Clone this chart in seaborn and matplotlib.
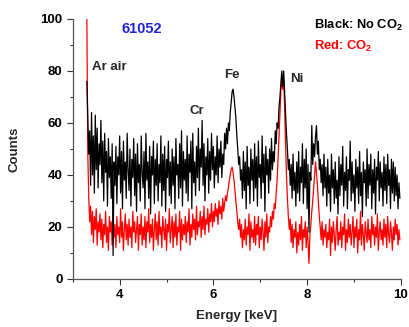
import numpy as np
import pandas as pd
import matplotlib
matplotlib.use("Agg")
import matplotlib.pyplot as plt
from matplotlib.ticker import MultipleLocator
import seaborn as sns

# channel grid of the spectrum (keV)
kev_start = 3.30
kev_step = 0.02

# counts, 15 channels per row (0.3 keV)
counts_no_co2 = [
    76, 62, 48, 57, 36, 64, 40, 55, 33, 63, 42, 58, 35, 52, 44,
    61, 37, 53, 30, 56, 41, 49, 28, 54, 39, 47, 31, 52, 9, 45,
    36, 51, 29, 47, 40, 55, 33, 49, 27, 53, 38, 45, 31, 56, 42,
    34, 50, 28, 46, 39, 54, 32, 48, 26, 52, 37, 44, 30, 55, 41,
    35, 49, 27, 56, 38, 45, 31, 51, 25, 47, 40, 53, 29, 46, 36,
    52, 30, 44, 37, 55, 28, 48, 34, 51, 26, 46, 39, 53, 32, 45,
    29, 50, 36, 47, 27, 54, 40, 44, 31, 52, 35, 57, 28, 49, 38,
    46, 33, 55, 30, 48, 41, 53, 27, 56, 37, 45, 32, 51, 39, 58,
    34, 50, 43, 61, 36, 52, 30, 47, 40, 54, 33, 49, 38, 56, 42,
    51, 35, 47, 40, 55, 37, 50, 43, 53, 39, 48, 44, 56, 50, 58,
    52, 60, 57, 64, 68, 72, 73, 70, 66, 62, 55, 50, 44, 47, 38,
    42, 31, 49, 34, 45, 27, 51, 36, 43, 29, 50, 38, 46, 30, 52,
    35, 47, 28, 53, 39, 44, 31, 55, 37, 48, 26, 51, 40, 46, 33,
    50, 38, 54, 42, 49, 45, 57, 52, 60, 58, 66, 70, 75, 80, 74,
    80, 72, 64, 56, 50, 42, 46, 36, 44, 31, 48, 34, 41, 28, 45,
    33, 49, 30, 43, 37, 52, 29, 46, 35, 50, 27, 44, 18, 41, 38,
    59, 44, 52, 47, 55, 59, 48, 53, 42, 46, 37, 44, 32, 48, 35,
    43, 28, 46, 33, 40, 26, 48, 35, 42, 29, 45, 31, 38, 25, 47,
    32, 44, 36, 51, 28, 41, 34, 47, 27, 42, 38, 53, 30, 45, 33,
    40, 26, 46, 35, 43, 29, 49, 32, 41, 24, 45, 37, 42, 28, 50,
    31, 44, 36, 48, 27, 42, 33, 46, 25, 43, 38, 49, 30, 45, 35,
    41, 28, 47, 34, 44, 29, 48, 36, 42, 27, 46, 33, 45, 30, 43,
    32, 40, 27, 37, 31,
]

counts_co2 = [
    100, 48, 32, 22, 28, 17, 26, 14, 24, 19, 27, 13, 22, 18, 25,
    15, 23, 12, 21, 17, 26, 14, 20, 11, 24, 18, 22, 13, 25, 16,
    21, 12, 24, 17, 20, 14, 27, 16, 22, 11, 19, 25, 15, 21, 13,
    23, 16, 20, 12, 26, 18, 22, 14, 19, 24, 11, 21, 17, 25, 13,
    20, 15, 24, 12, 22, 18, 27, 14, 21, 16, 23, 11, 19, 25, 15,
    22, 13, 26, 17, 20, 12, 24, 19, 15, 23, 11, 21, 18, 27, 14,
    19, 24, 12, 22, 16, 25, 13, 20, 18, 26, 11, 23, 15, 21, 17,
    24, 14, 22, 18, 27, 13, 21, 16, 25, 19, 23, 15, 28, 17, 22,
    20, 26, 16, 24, 19, 28, 17, 23, 21, 27, 18, 25, 22, 29, 20,
    26, 22, 29, 24, 27, 21, 30, 25, 28, 23, 31, 26, 29, 32, 30,
    33, 35, 38, 40, 42, 43, 41, 38, 34, 30, 26, 22, 19, 23, 16,
    21, 12, 19, 15, 23, 13, 20, 17, 25, 11, 22, 16, 19, 14, 24,
    13, 21, 17, 24, 12, 20, 15, 23, 18, 11, 22, 16, 25, 14, 20,
    18, 24, 20, 26, 23, 29, 27, 33, 38, 46, 55, 64, 72, 78, 73,
    77, 66, 52, 40, 31, 24, 19, 23, 14, 21, 12, 19, 16, 22, 10,
    18, 13, 21, 15, 24, 11, 19, 16, 22, 12, 20, 14, 6, 17, 21,
    26, 30, 35, 40, 45, 41, 36, 30, 24, 20, 15, 22, 13, 19, 16,
    21, 12, 18, 15, 23, 9, 20, 14, 22, 17, 11, 19, 24, 13, 18,
    15, 22, 12, 20, 17, 25, 11, 19, 14, 23, 16, 21, 13, 18, 24,
    12, 20, 16, 23, 10, 19, 15, 26, 13, 21, 17, 11, 22, 18, 14,
    23, 15, 19, 12, 24, 17, 21, 13, 20, 16, 25, 11, 18, 22, 15,
    19, 13, 23, 16, 21, 12, 24, 17, 14, 22, 18, 11, 20, 15, 23,
    17, 21, 13, 19, 15,
]

energy = kev_start + kev_step * np.arange(len(counts_no_co2))

df = pd.DataFrame({"energy": energy,
                   "no_co2": counts_no_co2,
                   "co2": counts_co2})

sns.set_style("ticks")
plt.rcParams['font.family'] = ['Liberation Sans', 'DejaVu Sans']
plt.rcParams['font.weight'] = 'bold'
plt.rcParams['mathtext.fontset'] = 'custom'
plt.rcParams['mathtext.rm'] = 'Liberation Sans:bold'
plt.rcParams['mathtext.it'] = 'Liberation Sans:bold'
plt.rcParams['mathtext.bf'] = 'Liberation Sans:bold'

fig = plt.figure(figsize=(4.09, 3.27), dpi=100)
ax = fig.add_axes([0.178, 0.147, 0.802, 0.795])

sns.lineplot(data=df, x="energy", y="co2", color="#ff0000", lw=0.9, ax=ax)
sns.lineplot(data=df, x="energy", y="no_co2", color="black", lw=0.9, ax=ax)

ax.set_xlim(3, 10)
ax.set_ylim(0, 100)
ax.xaxis.set_major_locator(MultipleLocator(2))
ax.xaxis.set_minor_locator(MultipleLocator(1))
ax.yaxis.set_major_locator(MultipleLocator(20))
ax.yaxis.set_minor_locator(MultipleLocator(10))
ax.tick_params(which="major", length=4, width=0.8, labelsize=9.5, colors="#333333")
ax.tick_params(which="minor", length=2.5, width=0.8, colors="#333333")
for lab in ax.get_xticklabels() + ax.get_yticklabels():
    lab.set_fontweight("bold")
    lab.set_color("black")
sns.despine(ax=ax)
for s in ["left", "bottom"]:
    ax.spines[s].set_color("#555555")
    ax.spines[s].set_linewidth(0.9)

ax.set_xlabel("Energy [keV]", fontsize=9.5, fontweight="bold", labelpad=6)
ax.set_ylabel("Counts", fontsize=9.5, fontweight="bold", labelpad=14)

ax.text(4.48, 96, "61052", color="#2222dd", fontsize=10.5, fontweight="bold",
        ha="center", va="center")
ax.text(8.15, 97.5, r"Black: No CO$_2$", color="black", fontsize=9.3,
        fontweight="bold", va="center")
ax.text(8.15, 89.5, r"Red: CO$_2$", color="#ff0000", fontsize=9.3,
        fontweight="bold", va="center")
ax.text(3.40, 81.5, "Ar air", fontsize=9.5, fontweight="bold", va="center")
ax.text(5.50, 64.5, "Cr", fontsize=9.5, fontweight="bold", va="center")
ax.text(6.23, 78.5, "Fe", fontsize=9.5, fontweight="bold", va="center")
ax.text(7.63, 77, "Ni", fontsize=9.5, fontweight="bold", va="center")

fig.savefig("out.png", dpi=100)
